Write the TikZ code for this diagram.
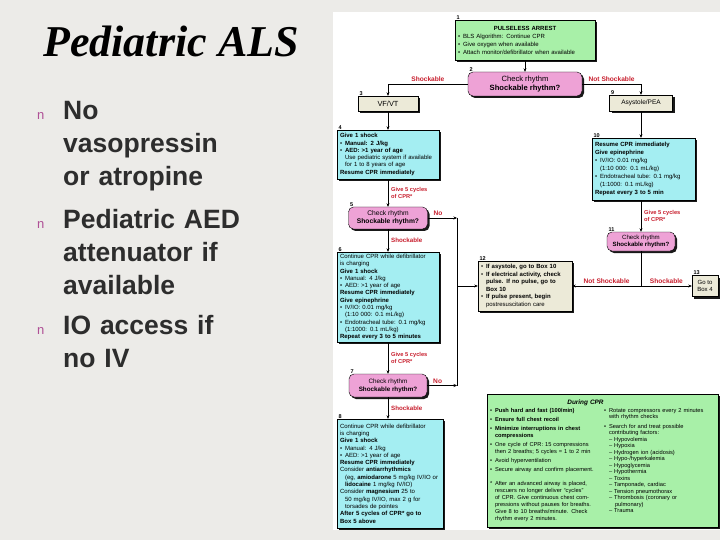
\documentclass[tikz,border=0pt]{standalone}
\usepackage{fontspec}
\setmainfont{Liberation Sans}
\newfontfamily\titlefont{Liberation Serif}
\usetikzlibrary{arrows.meta}
\usetikzlibrary{shadows}

\definecolor{slidegrey}{RGB}{236,235,232}
\definecolor{bodygrey}{RGB}{45,45,45}
\definecolor{bulletpink}{RGB}{175,80,150}
\definecolor{boxgreen}{RGB}{168,240,168}
\definecolor{boxpink}{RGB}{238,162,214}
\definecolor{boxcyan}{RGB}{164,238,242}
\definecolor{boxbeige}{RGB}{236,234,216}
\definecolor{labelred}{RGB}{200,30,45}

\newcommand\chartfont{\fontsize{6}{7.3}\selectfont}
\newcommand\loosefont{\fontsize{6}{8}\selectfont}
\newcommand\cprfont{\fontsize{5.7}{7}\selectfont}
\newcommand\listfont{\fontsize{5.7}{6.5}\selectfont}
\newcommand\bl{\makebox[5pt][l]{\textbullet}}
\newcommand\ind{\hspace*{5pt}}

\tikzset{
  chartbox/.style={draw=black, line width=0.4pt, inner xsep=3pt, inner ysep=2pt,
    font=\chartfont, align=left,
    drop shadow={shadow xshift=2pt, shadow yshift=-2pt, opacity=0.9, fill=black}},
  startbox/.style={chartbox, fill=boxgreen},
  rhythm/.style={chartbox, fill=boxpink, rounded corners=5pt, align=center},
  actbox/.style={chartbox, fill=boxcyan},
  plainbox/.style={chartbox, fill=boxbeige},
  arr/.style={-{Stealth[length=3.5pt,width=3pt]}, line width=0.45pt},
  lbl/.style={text=labelred, font=\bfseries\fontsize{6.6}{7}\selectfont, inner sep=1pt, align=left},
  downlbl/.style={lbl, font=\bfseries\fontsize{6.2}{7}\selectfont},
  cycles/.style={lbl, font=\bfseries\fontsize{5.7}{6.7}\selectfont},
  boxnum/.style={font=\bfseries\fontsize{5.5}{6}\selectfont, inner sep=0.5pt, anchor=south west, xshift=1pt},
  bodytext/.style={text=bodygrey, font=\bfseries\fontsize{26.5}{33}\selectfont, align=left,
    inner sep=0pt, text width=250pt, anchor=base west},
  bulletmark/.style={text=bulletpink, font=\fontsize{13}{13}\selectfont, inner sep=0pt, anchor=base west}
}

\begin{document}
\begin{tikzpicture}[x=1pt, y=-1pt]

\useasboundingbox (0,0) rectangle (720,540);
\fill[slidegrey] (0,0) rectangle (720,540);
\fill[white] (333,12) rectangle (720,530);

% left half of the slide
\node[font=\titlefont\bfseries\itshape\fontsize{44}{50}\selectfont, anchor=base, inner sep=0pt] (title) at (171,57) {Pediatric ALS};

\node[bulletmark] (mark1) at (37,120) {n};
\node[bulletmark] (mark2) at (37,229) {n};
\node[bulletmark] (mark3) at (37,334) {n};
\node[bodytext] (item1) at (63,120) {No\\vasopressin\\or atropine};
\node[bodytext] (item2) at (63,229) {Pediatric AED\\attenuator if\\available};
\node[bodytext] (item3) at (63,334) {IO access if\\no IV};

% algorithm boxes
\node[startbox, minimum width=140pt, minimum height=40pt, text width=134pt, font=\loosefont,
  label={[boxnum]north west:1}] (arrest) at (525,40) {%
  \makebox[134pt]{\bfseries PULSELESS ARREST}\\
  \bl BLS Algorithm: Continue CPR\\
  \bl Give oxygen when available\\
  \bl Attach monitor/defibrillator when available};

\node[rhythm, minimum width=114pt, minimum height=24pt, font=\fontsize{7.6}{9}\selectfont,
  label={[boxnum]north west:2}] (rhythmA) at (525,84)
  {Check rhythm\\\textbf{Shockable rhythm?}};

\node[plainbox, minimum width=60pt, minimum height=15pt, align=center, font=\fontsize{7.4}{8}\selectfont,
  label={[boxnum]north west:3}] (vfvt) at (388,103.5) {VF/VT};

\node[actbox, minimum width=102pt, minimum height=49pt, text width=96pt, label={[boxnum]north west:4}] (shockfirst) at (388,154.5) {%
  \textbf{Give 1 shock}\\
  \bl\textbf{Manual: 2 J/kg}\\
  \bl\textbf{AED: >1 year of age}\\
  \ind Use pediatric system if available\\
  \ind for 1 to 8 years of age\\
  \textbf{Resume CPR immediately}};

\node[rhythm, minimum width=79pt, minimum height=22pt, font=\fontsize{6.7}{8}\selectfont,
  label={[boxnum]north west:5}] (rhythmB) at (388,218)
  {Check rhythm\\\textbf{Shockable rhythm?}};

\node[actbox, minimum width=102pt, minimum height=90pt, text width=96pt, label={[boxnum]north west:6}] (shocksecond) at (388,297) {%
  Continue CPR while defibrillator\\
  is charging\\
  \textbf{Give 1 shock}\\
  \bl Manual: 4 J/kg\\
  \bl AED: >1 year of age\\
  \textbf{Resume CPR immediately}\\
  \textbf{Give epinephrine}\\
  \bl IV/IO: 0.01 mg/kg\\
  \ind (1:10 000: 0.1 mL/kg)\\
  \bl Endotracheal tube: 0.1 mg/kg\\
  \ind (1:1000: 0.1 mL/kg)\\
  \textbf{Repeat every 3 to 5 minutes}};

\node[rhythm, minimum width=78pt, minimum height=23pt, font=\fontsize{6.3}{7.8}\selectfont,
  label={[boxnum]north west:7}] (rhythmC) at (388,385.5)
  {Check rhythm\\\textbf{Shockable rhythm?}};

\node[actbox, minimum width=106pt, minimum height=109pt, text width=100pt, label={[boxnum]north west:8}] (shockthird) at (390,473.5) {%
  Continue CPR while defibrillator\\
  is charging\\
  \textbf{Give 1 shock}\\
  \bl Manual: 4 J/kg\\
  \bl AED: >1 year of age\\
  \textbf{Resume CPR immediately}\\
  Consider \textbf{antiarrhythmics}\\
  \ind (eg, \textbf{amiodarone} 5 mg/kg IV/IO or\\
  \ind \textbf{lidocaine} 1 mg/kg IV/IO)\\
  Consider \textbf{magnesium} 25 to\\
  \ind 50 mg/kg IV/IO, max 2 g for\\
  \ind torsades de pointes\\
  \textbf{After 5 cycles of CPR* go to}\\
  \textbf{Box 5 above}};

\node[plainbox, minimum width=63pt, minimum height=16pt, align=center, font=\fontsize{6.5}{7}\selectfont,
  label={[boxnum]north west:9}] (asys) at (641,103) {Asystole/PEA};

\node[actbox, minimum width=103pt, minimum height=62pt, text width=97pt, font=\loosefont, label={[boxnum]north west:10}] (epiloop) at (643.5,169) {%
  \textbf{Resume CPR immediately}\\
  \textbf{Give epinephrine}\\
  \bl IV/IO: 0.01 mg/kg\\
  \ind (1:10 000: 0.1 mL/kg)\\
  \bl Endotracheal tube: 0.1 mg/kg\\
  \ind (1:1000: 0.1 mL/kg)\\
  \textbf{Repeat every 3 to 5 min}};

\node[rhythm, minimum width=68pt, minimum height=19pt, font=\fontsize{6.1}{7.3}\selectfont,
  label={[boxnum]north west:11}] (rhythmD) at (641,241.5)
  {Check rhythm\\\textbf{Shockable rhythm?}};

\node[plainbox, minimum width=94pt, minimum height=50pt, text width=88pt, font=\fontsize{6}{7.6}\selectfont, label={[boxnum]north west:12}] (pulsecheck) at (525,286) {%
  \bl\textbf{If asystole, go to Box 10}\\
  \bl\textbf{If electrical activity, check}\\
  \ind\textbf{pulse. If no pulse, go to}\\
  \ind\textbf{Box 10}\\
  \bl\textbf{If pulse present, begin}\\
  \ind postresuscitation care};

\node[plainbox, minimum width=26pt, minimum height=21pt, inner xsep=1pt, align=center, label={[boxnum]north west:13}] (gobox) at (705,286) {Go to\\Box 4};

\node[startbox, minimum width=231pt, minimum height=133pt, text width=225pt] (duringcpr) at (602.5,460.5) {%
  \makebox[225pt]{\hspace*{-34pt}\fontsize{6.4}{7}\selectfont\bfseries\itshape During CPR}\\[1pt]
  \parbox[t]{111pt}{\cprfont
    \bl\textbf{Push hard and fast (100/min)}\\[2pt]
    \bl\textbf{Ensure full chest recoil}\\[2pt]
    \bl\textbf{Minimize interruptions in chest}\\
    \ind\textbf{compressions}\\[2pt]
    \bl One cycle of CPR: 15 compressions\\
    \ind then 2 breaths; 5 cycles = 1 to 2 min\\[2pt]
    \bl Avoid hyperventilation\\[2pt]
    \bl Secure airway and confirm placement.\\[7pt]
    \makebox[5pt][l]{*}After an advanced airway is placed,\\
    \ind rescuers no longer deliver ``cycles''\\
    \ind of CPR. Give continuous chest com-\\
    \ind pressions without pauses for breaths.\\
    \ind Give 8 to 10 breaths/minute. Check\\
    \ind rhythm every 2 minutes.}\hspace{3pt}%
  \parbox[t]{110pt}{\listfont
    \bl Rotate compressors every 2 minutes\\
    \ind with rhythm checks\\[3pt]
    \bl Search for and treat possible\\
    \ind contributing factors:\\
    \ind -- Hypovolemia\\
    \ind -- Hypoxia\\
    \ind -- Hydrogen ion (acidosis)\\
    \ind -- Hypo-/hyperkalemia\\
    \ind -- Hypoglycemia\\
    \ind -- Hypothermia\\
    \ind -- Toxins\\
    \ind -- Tamponade, cardiac\\
    \ind -- Tension pneumothorax\\
    \ind -- Thrombosis (coronary or\\
    \ind\hspace*{6pt}pulmonary)\\
    \ind -- Trauma}};

% connectors
\coordinate (rail) at (457,0);
\coordinate (split) at (rhythmD.south |- pulsecheck.east);

\draw[arr] (arrest) -- (rhythmA);
\draw[arr] (rhythmA.west) -| (vfvt.north) node[lbl, pos=0.25, above=1pt] (shockA) {Shockable};
\draw[arr] (rhythmA.east) -| (asys.north) node[lbl, pos=0.25, above=1pt] (noshockA) {Not Shockable};
\draw[arr] (vfvt) -- (shockfirst);
\draw[arr] (shockfirst) -- (rhythmB) node[cycles, midway, right=2pt] (cyclesA) {Give 5 cycles\\of CPR*};
\draw[arr] (rhythmB) -- (shocksecond) node[downlbl, midway, right=2pt] (shockB) {Shockable};
\draw[arr] (rhythmB.east) -- (rhythmB.east -| rail) node[lbl, pos=0.35, above=1pt] (noB) {No};
\draw[arr] (shocksecond) -- (rhythmC) node[cycles, midway, right=2pt] (cyclesB) {Give 5 cycles\\of CPR*};
\draw[arr] (rhythmC) -- (rhythmC |- shockthird.north) node[downlbl, midway, right=2pt] (shockC) {Shockable};
\draw[arr] (rhythmC.east) -- (rhythmC.east -| rail) node[lbl, pos=0.35, above=1pt] (noC) {No};
\draw[line width=0.45pt] (rhythmB.east -| rail) -- (rhythmC.east -| rail);
\draw[arr] (pulsecheck.west -| rail) -- (pulsecheck.west);

\draw[arr] (asys) -- (asys |- epiloop.north);
\draw[arr] (epiloop.south -| rhythmD) -- (rhythmD) node[cycles, midway, right=2pt] (cyclesC) {Give 5 cycles\\of CPR*};
\draw[line width=0.45pt] (rhythmD.south) -- (split);
\draw[arr] (split) -- (pulsecheck.east) node[lbl, midway, above=1pt] (noshockD) {Not Shockable};
\draw[arr] (split) -- (gobox.west) node[lbl, midway, above=1pt] (shockD) {Shockable};

\end{tikzpicture}
\end{document}
